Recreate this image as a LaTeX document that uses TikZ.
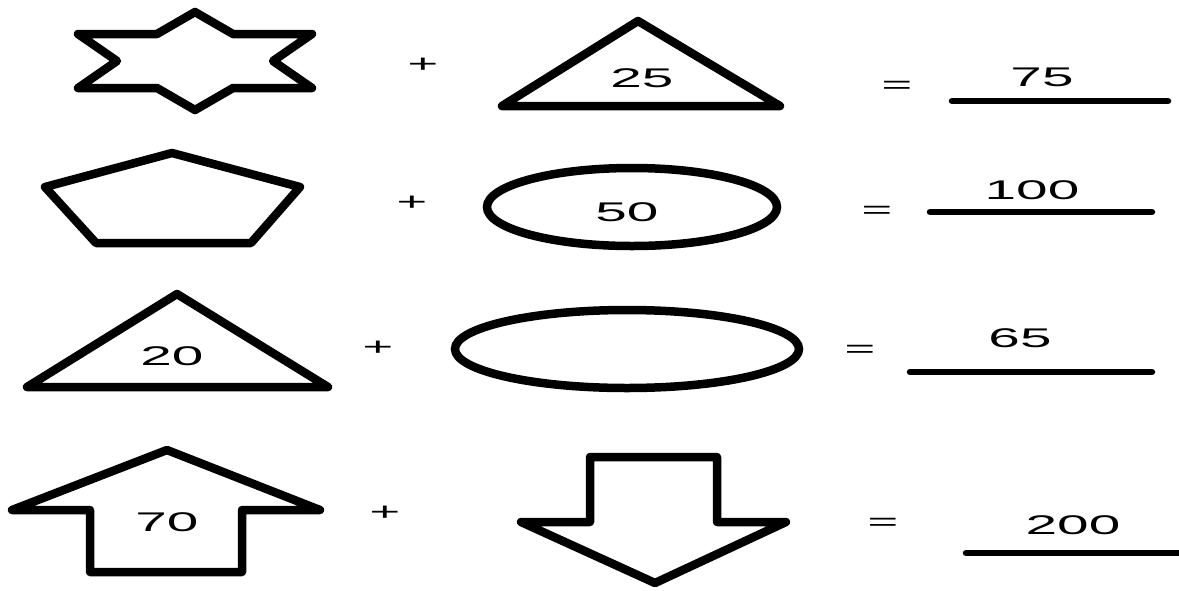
\documentclass[tikz,border=0pt]{standalone}
\usepackage{fontspec}
\setmainfont{Liberation Sans}
\usepackage{graphicx}
\usetikzlibrary{shapes.geometric}
\newcommand{\wideno}[1]{\scalebox{2.1}[1]{#1}}

\begin{document}
\begin{tikzpicture}[
    x=1pt, y=-1pt,
    outline/.style={draw, line width=8.5pt, line join=round},
    oval/.style={ellipse, draw, line width=8.5pt, inner sep=0pt},
    num/.style={font=\fontsize{27}{30}\selectfont, inner sep=0pt},
    sign/.style={font=\fontsize{25}{28}\selectfont, inner sep=0pt},
    answer/.style={draw, line width=6.5pt, line cap=round},
  ]
  \useasboundingbox (0,0) rectangle (1179,590);

  % row 1: star + triangle = 75
  \draw[outline] (195,12) -- (233,34) -- (312,34) -- (273,61) -- (312,88)
    -- (233,88) -- (195,110) -- (157,88) -- (78,88) -- (117,61) -- (78,34)
    -- (157,34) -- cycle;
  \node[sign] (plusA) at (423,65) {\wideno{+}};
  \draw[outline] (638,21) -- (780,106) -- (502,106) -- cycle;
  \node[num] (triA) at (642,78) {\wideno{25}};
  \node[sign] (eqA) at (897,87) {\wideno{=}};
  \coordinate (lineA) at (952,101);
  \draw[answer] (lineA) -- ++(216,0);
  \node[num] (ansA) at (1042,77) {\wideno{75}};

  % row 2: pentagon + ellipse = 100
  \draw[outline] (172,153) -- (300,187) -- (251,243) -- (96,243) -- (45,187) -- cycle;
  \node[sign] (plusB) at (412,203) {\wideno{+}};
  \node[oval, minimum width=290pt, minimum height=78pt] (ovalB) at (632,207) {};
  \node[num] (ovB) at (627,212) {\wideno{50}};
  \node[sign] (eqB) at (877,212) {\wideno{=}};
  \coordinate (lineB) at (930,212);
  \draw[answer] (lineB) -- ++(222,0);
  \node[num] (ansB) at (1032,190) {\wideno{100}};

  % row 3: triangle + ellipse = 65
  \draw[outline] (177,294) -- (328,387) -- (27,387) -- cycle;
  \node[num] (triC) at (172,356) {\wideno{20}};
  \node[sign] (plusC) at (378,348) {\wideno{+}};
  \node[oval, minimum width=344pt, minimum height=78pt] (ovalC) at (627,349) {};
  \node[sign] (eqC) at (860,351) {\wideno{=}};
  \coordinate (lineC) at (910,372);
  \draw[answer] (lineC) -- ++(242,0);
  \node[num] (ansC) at (1020,338) {\wideno{65}};

  % row 4: up arrow + down arrow = 200
  \draw[outline] (167,450) -- (320,510) -- (242,510) -- (242,572) -- (90,572)
    -- (90,510) -- (12,510) -- cycle;
  \node[num] (upD) at (167,522) {\wideno{70}};
  \node[sign] (plusD) at (385,513) {\wideno{+}};
  \draw[outline] (590,457) -- (717,457) -- (717,522) -- (786,522) -- (655,583)
    -- (521,522) -- (590,522) -- cycle;
  \node[sign] (eqD) at (883,524) {\wideno{=}};
  \coordinate (lineD) at (966,553);
  \draw[answer] (lineD) -- ++(213,0);
  \node[num] (ansD) at (1073,525) {\wideno{200}};
\end{tikzpicture}
\end{document}
